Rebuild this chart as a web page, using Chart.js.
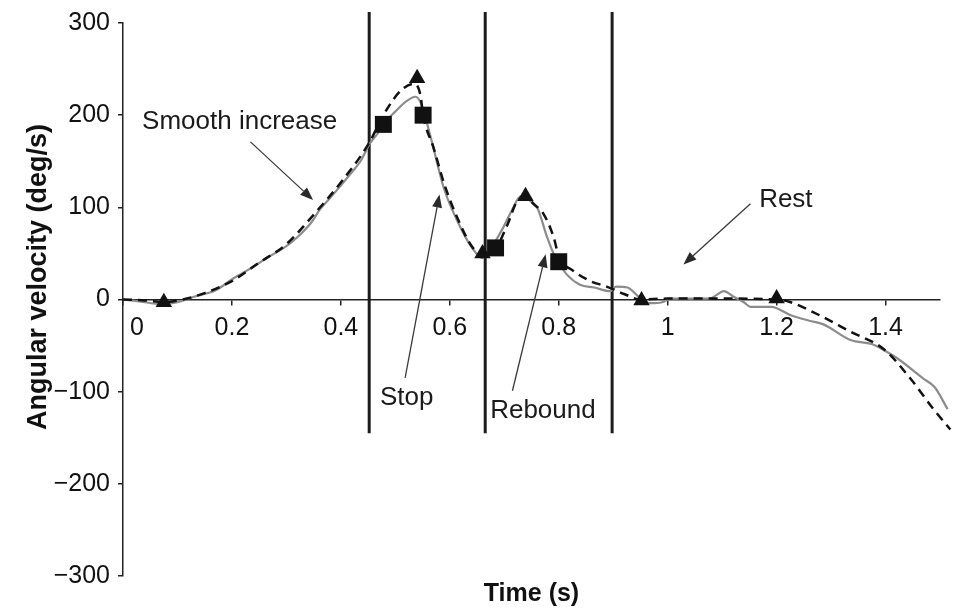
<!DOCTYPE html>
<html>
<head>
<meta charset="utf-8">
<script src="https://cdn.jsdelivr.net/npm/chart.js@4.4.1/dist/chart.umd.min.js"></script>
<style>
  html, body { margin: 0; padding: 0; background: #fff; }
  #wrap { width: 953px; height: 611px; }
</style>
</head>
<body>
<div id="wrap"><canvas id="chart" width="953" height="611"></canvas></div>
<script>
// --- DATA ---
// measured (solid grey)
const measuredTime = [0, 0.03, 0.07, 0.1, 0.13, 0.17, 0.203, 0.235, 0.264, 0.3, 0.319, 0.345, 0.362, 0.38, 0.399, 0.42, 0.436, 0.453,
  0.47, 0.478, 0.5, 0.52, 0.537, 0.547, 0.555, 0.568, 0.589, 0.614, 0.641, 0.66, 0.675, 0.698, 0.715, 0.73, 0.745, 0.761,
  0.779, 0.794, 0.815, 0.839, 0.865, 0.895, 0.905, 0.926, 0.947, 0.968, 0.99, 1.005, 1.04, 1.078, 1.09, 1.103, 1.121,
  1.14, 1.152, 1.19, 1.226, 1.26, 1.286, 1.336, 1.378, 1.4, 1.422, 1.47, 1.49, 1.514];
const measuredVel = [0, -2, -5, -3, 3, 10, 23, 34, 45, 58, 67, 83, 98, 110, 123, 138, 150, 169,
  182, 190, 204, 215, 220, 213, 198, 169, 121, 85, 56, 45, 55, 78, 98, 112, 108, 99,
  67, 45, 27, 16, 13, 9, 14, 13, 3, -4, -3, 1, 1, 1, 5, 9, 3,
  -3, -8, -8, -17, -23, -27, -44, -49, -56, -64, -86, -95, -119];

// model (dashed black)
const modelTime = [0, 0.04, 0.075, 0.11, 0.15, 0.2, 0.25, 0.3, 0.35, 0.4, 0.452, 0.478, 0.509, 0.535, 0.546, 0.551,
  0.57, 0.59, 0.615, 0.64, 0.66, 0.684, 0.705, 0.723, 0.739, 0.755, 0.772, 0.791, 0.8, 0.827, 0.858, 0.888, 0.92,
  0.95, 1.0, 1.1, 1.2, 1.226, 1.275, 1.336, 1.397, 1.446, 1.488, 1.519];
const modelVel = [0, -1, -3, 0, 7, 20, 40, 60, 92, 127, 170, 200, 226, 234, 222, 200,
  165, 125, 87, 58, 48, 55, 80, 106, 111, 103, 93, 67, 47, 31, 20, 14, 6,
  0, 1, 1, 0, -3, -16, -35, -54, -86, -119, -141];

const triangleTime = [0.075, 0.54, 0.66, 0.739, 0.952, 1.2];
const triangleVel = [-3, 240, 50, 112, -1, 1];
const squareTime = [0.478, 0.551, 0.684, 0.8];
const squareVel = [190, 200, 56, 41];

const phaseLines = [0.452, 0.665, 0.898];
const phaseSpan = [312, -145];

const xTicks = [0, 0.2, 0.4, 0.6, 0.8, 1, 1.2, 1.4];
const yTicks = [-300, -200, -100, 0, 100, 200, 300];

// text + arrows, anchored in data units
const notes = [
  { text: 'Smooth increase', t: 0.035, v: 193, align: 'left' },
  { text: 'Stop', t: 0.521, v: -107, align: 'center' },
  { text: 'Rebound', t: 0.771, v: -121, align: 'center' },
  { text: 'Rest', t: 1.217, v: 108, align: 'center' }
];
const arrows = [
  { from: [0.234, 171], to: [0.349, 108] },
  { from: [0.518, -85], to: [0.581, 114] },
  { from: [0.715, -99], to: [0.776, 49] },
  { from: [1.152, 104], to: [1.029, 38] }
];

const FONT = "'Liberation Sans', Arial, Helvetica, sans-serif";
Chart.defaults.font.family = FONT;
Chart.defaults.color = '#111';

const toPts = (xs, ys) => xs.map((x, i) => ({ x, y: ys[i] }));

// draws the phase labels and their arrows
const notesPlugin = {
  id: 'notes',
  afterDatasetsDraw(chart) {
    const { ctx, scales: { x, y } } = chart;
    ctx.save();
    ctx.strokeStyle = '#3a3a3a';
    ctx.fillStyle = '#2a2a2a';
    ctx.lineWidth = 1.3;
    arrows.forEach(a => {
      const x1 = x.getPixelForValue(a.from[0]), y1 = y.getPixelForValue(a.from[1]);
      const x2 = x.getPixelForValue(a.to[0]), y2 = y.getPixelForValue(a.to[1]);
      const ang = Math.atan2(y2 - y1, x2 - x1);
      const len = 13, half = 5;
      const bx = x2 - Math.cos(ang) * len, by = y2 - Math.sin(ang) * len;
      ctx.beginPath();
      ctx.moveTo(x1, y1);
      ctx.lineTo(bx, by);
      ctx.stroke();
      ctx.beginPath();
      ctx.moveTo(x2, y2);
      ctx.lineTo(bx + Math.sin(ang) * half, by - Math.cos(ang) * half);
      ctx.lineTo(bx - Math.sin(ang) * half, by + Math.cos(ang) * half);
      ctx.closePath();
      ctx.fill();
    });
    ctx.fillStyle = '#1a1a1a';
    ctx.font = '26px ' + FONT;
    ctx.textBaseline = 'middle';
    notes.forEach(n => {
      ctx.textAlign = n.align;
      ctx.fillText(n.text, x.getPixelForValue(n.t), y.getPixelForValue(n.v));
    });
    ctx.restore();
  }
};

const markerSets = [
  { data: toPts(triangleTime, triangleVel), pointStyle: 'triangle', pointRadius: 9.5 },
  { data: toPts(squareTime, squareVel), pointStyle: 'rect', pointRadius: 12 }
].map(d => ({
  ...d,
  showLine: false,
  backgroundColor: '#111',
  borderColor: '#111',
  borderWidth: 0,
  clip: false,
  xAxisID: 'x', yAxisID: 'y'
}));

const curveSets = [
  { data: toPts(modelTime, modelVel), borderColor: '#111', borderWidth: 2.5, borderDash: [9, 6] },
  { data: toPts(measuredTime, measuredVel), borderColor: '#8c8c8c', borderWidth: 2.2 }
].map(d => ({
  ...d,
  showLine: true,
  pointRadius: 0,
  cubicInterpolationMode: 'monotone',
  clip: false,
  xAxisID: 'x', yAxisID: 'y'
}));

const phaseSets = phaseLines.map(t => ({
  data: [{ x: t, y: phaseSpan[0] }, { x: t, y: phaseSpan[1] }],
  showLine: true,
  borderColor: '#1c1c1c',
  borderWidth: 3,
  pointRadius: 0,
  clip: false,
  xAxisID: 'x', yAxisID: 'y'
}));

new Chart(document.getElementById('chart').getContext('2d'), {
  type: 'scatter',
  data: { datasets: [...markerSets, ...curveSets, ...phaseSets] },
  options: {
    responsive: false,
    animation: false,
    devicePixelRatio: 1,
    layout: { padding: { top: 21, right: 13, left: 0, bottom: 0 } },
    plugins: { legend: { display: false }, tooltip: { enabled: false } },
    scales: {
      x: {
        type: 'linear',
        position: { y: 0 },
        min: 0, max: 1.5,
        afterBuildTicks: s => { s.ticks = xTicks.map(v => ({ value: v })); },
        ticks: {
          font: { size: 25 },
          padding: 9,
          maxRotation: 0,
          callback: v => v === 0 ? '    0' : String(v)
        },
        grid: { drawOnChartArea: false, drawTicks: true, tickLength: 5, color: '#222', lineWidth: 1.5 },
        border: { display: true, color: '#222', width: 1.5 }
      },
      xTitle: {
        type: 'linear',
        position: 'bottom',
        ticks: { display: false },
        grid: { display: false, drawTicks: false },
        border: { display: false },
        title: { display: true, text: 'Time (s)', font: { size: 25, weight: 'bold' }, padding: { top: 3, bottom: 2 } }
      },
      y: {
        type: 'linear',
        position: 'left',
        min: -300, max: 300,
        afterBuildTicks: s => { s.ticks = yTicks.map(v => ({ value: v })); },
        afterFit: s => { s.width = 123; },
        ticks: {
          font: { size: 25 },
          padding: 8,
          callback: v => String(v).replace('-', '\u2212')
        },
        grid: { drawOnChartArea: false, drawTicks: true, tickLength: 5, color: '#222', lineWidth: 1.5 },
        border: { display: true, color: '#222', width: 1.5 },
        title: {
          display: true,
          text: '      Angular velocity (deg/s)',
          font: { size: 27, weight: 'bold' },
          padding: { top: 22, bottom: 0 }
        }
      }
    }
  },
  plugins: [notesPlugin]
});
</script>
</body>
</html>
